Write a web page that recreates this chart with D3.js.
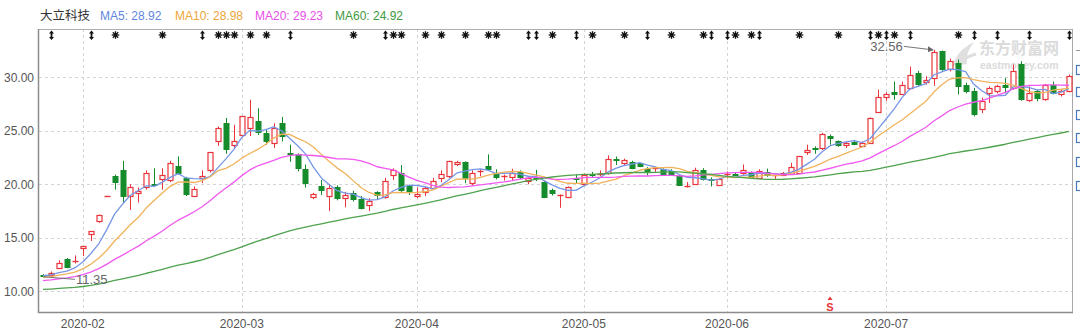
<!DOCTYPE html>
<html><head><meta charset="utf-8">
<script src="https://cdn.jsdelivr.net/npm/d3@7/dist/d3.min.js"></script>
<style>body{margin:0;background:#fff;}svg{display:block;}</style>
</head><body>
<svg id="chart" width="1080" height="334"></svg>
<script>
const stockName = "大立科技";
const dates = [
"2020-01-17","2020-01-20","2020-01-21","2020-01-22","2020-01-23",
"2020-02-03","2020-02-04","2020-02-05","2020-02-06","2020-02-07","2020-02-10","2020-02-11","2020-02-12","2020-02-13","2020-02-14",
"2020-02-17","2020-02-18","2020-02-19","2020-02-20","2020-02-21","2020-02-24","2020-02-25","2020-02-26","2020-02-27","2020-02-28",
"2020-03-02","2020-03-03","2020-03-04","2020-03-05","2020-03-06","2020-03-09","2020-03-10","2020-03-11","2020-03-12","2020-03-13",
"2020-03-16","2020-03-17","2020-03-18","2020-03-19","2020-03-20","2020-03-23","2020-03-24","2020-03-25","2020-03-26","2020-03-27",
"2020-03-30","2020-03-31",
"2020-04-01","2020-04-02","2020-04-03","2020-04-07","2020-04-08","2020-04-09","2020-04-10","2020-04-13","2020-04-14","2020-04-15",
"2020-04-16","2020-04-17","2020-04-20","2020-04-21","2020-04-22","2020-04-23","2020-04-24","2020-04-27","2020-04-28","2020-04-29","2020-04-30",
"2020-05-06","2020-05-07","2020-05-08","2020-05-11","2020-05-12","2020-05-13","2020-05-14","2020-05-15","2020-05-18","2020-05-19",
"2020-05-20","2020-05-21","2020-05-22","2020-05-25","2020-05-26","2020-05-27","2020-05-28","2020-05-29",
"2020-06-01","2020-06-02","2020-06-03","2020-06-04","2020-06-05","2020-06-08","2020-06-09","2020-06-10","2020-06-11","2020-06-12",
"2020-06-15","2020-06-16","2020-06-17","2020-06-18","2020-06-19","2020-06-22","2020-06-23","2020-06-24","2020-06-29","2020-06-30",
"2020-07-01","2020-07-02","2020-07-03","2020-07-06","2020-07-07","2020-07-08","2020-07-09","2020-07-10","2020-07-13","2020-07-14",
"2020-07-15","2020-07-16","2020-07-17","2020-07-20","2020-07-21","2020-07-22","2020-07-23","2020-07-24","2020-07-27","2020-07-28",
"2020-07-29","2020-07-30","2020-07-31","2020-08-03"];
const opens = [11.55,11.50,12.20,13.05,12.75,14.00,15.40,16.55,18.89,20.80,
21.35,18.90,19.20,19.75,20.05,20.45,20.40,21.70,20.60,18.90,
20.60,21.30,24.00,25.70,23.65,24.65,25.30,25.95,24.80,23.90,
25.70,22.90,22.80,21.40,18.80,19.80,18.90,19.70,18.70,19.20,
18.60,18.10,19.25,18.80,20.90,21.05,19.80,18.95,19.30,19.65,
20.60,20.75,21.85,22.05,20.15,21.15,21.70,21.05,20.65,20.65,
21.15,20.35,20.65,20.20,19.50,18.90,18.80,20.60,20.05,20.95,
20.90,21.06,22.40,22.00,22.05,21.95,21.45,21.40,21.40,21.20,
20.75,19.75,20.05,21.35,20.50,19.97,20.90,21.00,21.05,21.05,
20.60,21.15,20.75,20.90,21.00,21.06,23.00,23.40,23.40,24.50,
24.00,23.70,23.95,23.55,23.86,26.80,28.20,28.60,28.45,29.00,
30.40,29.60,29.95,32.45,30.75,31.35,29.25,28.75,27.00,28.55,
28.75,29.30,29.00,31.20,27.85,28.70,28.00,29.30,28.45,28.70];
const highs = [11.60,11.85,12.90,13.10,13.35,14.19,15.61,17.17,18.89,20.90,
22.20,20.00,19.70,21.30,21.50,21.50,22.20,22.60,20.70,19.80,
21.30,23.00,25.40,26.20,25.55,26.40,27.90,27.10,25.10,25.70,
26.30,23.70,22.90,21.85,19.20,20.40,20.00,19.90,19.30,19.40,
18.90,18.70,19.35,20.60,21.50,21.80,19.97,19.70,19.80,20.60,
21.30,22.20,22.20,22.15,21.30,21.40,22.80,21.40,20.90,21.45,
21.30,20.75,21.35,20.30,19.60,19.05,19.80,20.90,21.00,21.15,
21.30,22.70,22.60,22.40,22.20,22.00,21.60,21.60,21.50,21.40,
20.90,20.20,21.55,21.50,20.65,20.55,21.20,21.15,21.85,21.20,
21.40,21.46,20.90,21.15,22.00,22.65,23.70,23.55,24.80,24.65,
24.10,24.00,24.15,24.00,26.25,28.85,28.60,29.60,29.60,31.00,
30.60,30.10,32.56,32.50,31.75,31.65,29.50,29.00,28.10,29.16,
29.30,29.94,31.20,31.50,29.16,28.85,29.38,29.60,28.85,30.25];
const lows = [11.35,11.40,12.10,12.15,12.60,13.30,14.70,16.40,18.89,19.50,
18.30,17.60,18.30,19.50,19.85,19.50,20.20,20.90,18.90,18.80,
20.10,21.10,23.60,22.85,23.40,24.50,24.50,24.60,23.70,23.40,
24.00,22.10,21.20,19.70,18.60,19.00,17.50,18.50,17.85,18.40,
17.65,17.50,18.55,18.65,20.40,19.20,19.00,18.70,18.90,19.50,
20.20,20.60,21.70,20.10,19.90,20.75,21.35,20.45,20.35,20.30,
20.50,20.00,20.30,18.70,18.95,17.80,18.70,20.05,19.90,20.65,
20.75,20.90,21.80,21.70,21.40,21.60,20.85,21.15,20.90,20.85,
19.85,19.70,19.97,20.35,19.80,19.90,20.55,20.75,20.90,20.60,
20.50,20.70,20.45,20.85,20.95,21.00,22.75,22.85,23.20,23.70,
23.50,23.40,23.65,23.50,23.80,26.70,27.80,27.90,28.35,28.85,
29.15,29.30,29.20,30.60,30.55,28.40,28.50,26.35,26.65,27.60,
28.50,28.50,28.85,27.80,27.70,27.75,27.80,28.40,28.20,28.60];
const closes = [11.42,11.75,12.60,12.30,12.85,14.19,15.61,17.17,18.89,20.20,
18.90,19.70,19.40,21.10,19.90,20.90,21.95,21.10,19.10,19.60,
20.75,23.00,25.30,23.25,24.00,26.35,26.30,24.90,24.00,25.30,
24.50,22.80,21.50,20.10,19.10,19.45,19.65,18.70,19.00,18.60,
17.80,18.45,19.00,20.30,21.30,19.50,19.35,19.05,19.65,20.35,
20.95,22.15,22.10,20.60,21.05,21.25,21.45,20.65,20.75,21.10,
20.70,20.55,20.55,18.80,19.15,19.00,19.70,20.50,20.90,20.85,
21.00,22.40,22.25,22.25,21.55,21.70,21.15,21.50,21.00,21.00,
19.90,19.80,21.35,20.45,20.40,20.45,21.00,20.95,21.35,20.70,
21.20,20.85,20.85,21.05,21.60,22.60,23.20,23.25,24.70,24.30,
23.70,23.85,23.80,23.85,26.20,28.20,28.45,28.40,29.25,30.25,
29.40,29.75,32.40,30.75,31.50,29.20,28.75,26.60,27.80,29.00,
29.15,29.05,30.55,27.95,28.50,28.10,29.25,28.55,28.70,30.10];
// closes before the visible window (estimated so that the moving averages start where the picture shows)
const priorCloses = [9.35,9.42,9.38,9.50,9.46,9.55,9.60,9.52,9.48,9.57,
9.63,9.70,9.66,9.58,9.62,9.71,9.75,9.68,9.72,9.80,
9.77,9.69,9.74,9.83,9.88,9.81,9.79,9.86,9.92,9.85,
9.90,9.97,10.02,9.95,10.05,10.10,10.04,10.12,10.18,10.25,
10.32,10.45,10.58,10.50,10.66,10.72,10.85,10.80,10.94,11.05,
11.02,11.18,11.10,11.25,11.20,
11.38,11.52,11.60,11.35];
const maPeriods = [5, 10, 20, 60];
const maNames = ["MA5", "MA10", "MA20", "MA60"];
const maLegendValues = ["28.92", "28.98", "29.23", "24.92"];
const yTicks = [10, 15, 20, 25, 30];
const monthLabels = ["2020-02", "2020-03", "2020-04", "2020-05", "2020-06", "2020-07"];
const arrowMarks = [1,6,20,31,43,61,62,67,76,84,86,90,104,106,109,117,120,124,129];
const starMarks = [9,15,22,23,24,26,28,39,44,45,48,50,53,56,57,64,69,73,79,83,87,89,95,100,105,107,115];
const sMarks = [99];

const W = 1080, H = 334;
const L = 39, R = 1073, T = 29, B = 312;
const RED = "#e8343a", GREEN = "#148c2c";
const maLineColors = ["#7696e6", "#f0b25a", "#f05af0", "#4ea24e"];
const maTextColors = ["#5f86e0", "#eda63a", "#e84ee8", "#3f9a3f"];
const FONT = "'Liberation Sans','Noto Sans CJK SC',sans-serif";

const svg = d3.select("#chart");
svg.append("rect").attr("width", W).attr("height", H).attr("fill", "#fff");

const x = d3.scaleBand().domain(dates).range([L, R]).padding(0);
const xc = d => x(d) + x.bandwidth() / 2;
const y = d3.scaleLinear().domain([8.065, 34.51]).range([B, T]);

svg.append("defs").append("clipPath").attr("id", "clip")
  .append("rect").attr("x", L).attr("y", T).attr("width", R - L).attr("height", B - T);

// month ticks: first trading day of each labelled month
const monthTicks = monthLabels.map(m => dates.find(d => d.slice(0, 7) === m));

// grid
const grid = svg.append("g");
grid.selectAll("line.h").data(yTicks).join("line")
  .attr("x1", L).attr("x2", R)
  .attr("y1", d => Math.round(y(d)) + 0.5).attr("y2", d => Math.round(y(d)) + 0.5)
  .attr("stroke", "#d4d4d4").attr("stroke-dasharray", "3,3");
grid.selectAll("line.v").data(monthTicks).join("line")
  .attr("x1", d => Math.round(xc(d)) + 0.5).attr("x2", d => Math.round(xc(d)) + 0.5)
  .attr("y1", T).attr("y2", B)
  .attr("stroke", "#d4d4d4").attr("stroke-dasharray", "3,3");

// watermark
const wm = svg.append("g").attr("opacity", 0.9);
wm.append("path").attr("d", "M953,66 C955,56 962,48 974,42 C968,50 966,56 967,64 Z").attr("fill", "#dcdcdc");
wm.append("path").attr("d", "M958,66 C962,60 968,56 976,54").attr("stroke", "#dcdcdc").attr("stroke-width", 3).attr("fill", "none");
wm.append("text").attr("x", 979).attr("y", 54).text("东方财富网")
  .attr("font-family", "'Noto Sans CJK SC',sans-serif").attr("font-weight", "bold")
  .attr("font-size", 16).attr("fill", "#d8d8d8");
wm.append("text").attr("x", 980).attr("y", 69).text("eastmoney.com")
  .attr("font-family", FONT).attr("font-weight", "bold")
  .attr("font-size", 10.5).attr("fill", "#d8d8d8");

// frame
const frame = svg.append("g");
frame.append("line").attr("x1", L).attr("x2", R).attr("y1", T + 0.5).attr("y2", T + 0.5).attr("stroke", "#b0b0b0");
frame.append("line").attr("x1", R - 0.5).attr("x2", R - 0.5).attr("y1", T).attr("y2", B).attr("stroke", "#a8a8a8");
frame.append("line").attr("x1", L - 0.5).attr("x2", L - 0.5).attr("y1", T).attr("y2", B + 1).attr("stroke", "#8c8c8c").attr("stroke-width", 1.5);
frame.append("line").attr("x1", L - 1).attr("x2", R).attr("y1", B + 0.5).attr("y2", B + 0.5).attr("stroke", "#8c8c8c").attr("stroke-width", 1.5);

// axes
const yAxis = svg.append("g").attr("transform", `translate(${L},0)`)
  .call(d3.axisLeft(y).tickValues(yTicks).tickFormat(d3.format(".2f")).tickSize(0).tickPadding(5));
yAxis.select(".domain").remove();
yAxis.selectAll("text").attr("font-family", FONT).attr("font-size", 12).attr("fill", "#555");

const xAxis = svg.append("g").attr("transform", `translate(0,${B})`)
  .call(d3.axisBottom(x).tickValues(monthTicks).tickFormat(d => d.slice(0, 7)).tickSize(0).tickPadding(7));
xAxis.select(".domain").remove();
xAxis.selectAll("text").attr("font-family", FONT).attr("font-size", 12).attr("fill", "#555");

// candles
const data = dates.map((d, i) => ({ d, i, o: opens[i], h: highs[i], l: lows[i], c: closes[i] }));
const plot = svg.append("g").attr("clip-path", "url(#clip)");
const cg = plot.append("g");
data.forEach(k => {
  const cx = Math.round(xc(k.d)) + 0.5;
  const up = k.c >= k.o;
  const col = up ? RED : GREEN;
  const yt = Math.round(y(Math.max(k.o, k.c))) + 0.5;
  const yb = Math.round(y(Math.min(k.o, k.c))) + 0.5;
  const yh = y(k.h), yl = y(k.l);
  if (up) {
    if (yb - yt < 1.5) {
      cg.append("line").attr("x1", cx).attr("x2", cx).attr("y1", yh).attr("y2", yl).attr("stroke", col);
      cg.append("line").attr("x1", cx - 3).attr("x2", cx + 3).attr("y1", yt).attr("y2", yt).attr("stroke", col).attr("stroke-width", 1.4);
    } else {
      cg.append("line").attr("x1", cx).attr("x2", cx).attr("y1", yh).attr("y2", yt).attr("stroke", col);
      cg.append("line").attr("x1", cx).attr("x2", cx).attr("y1", yb).attr("y2", yl).attr("stroke", col);
      cg.append("rect").attr("x", cx - 2.5).attr("y", yt).attr("width", 5).attr("height", yb - yt)
        .attr("fill", "#fff").attr("stroke", col).attr("stroke-width", 1.2);
    }
  } else {
    cg.append("line").attr("x1", cx).attr("x2", cx).attr("y1", yh).attr("y2", yl).attr("stroke", col);
    cg.append("rect").attr("x", cx - 3).attr("y", yt - 0.5).attr("width", 6).attr("height", Math.max(2, yb - yt + 1))
      .attr("fill", col);
  }
});

// moving averages
const allCloses = priorCloses.concat(closes);
const off = priorCloses.length;
const maSeries = maPeriods.map(n => closes.map((_, i) => d3.mean(allCloses.slice(i + off - n + 1, i + off + 1))));
const line = d3.line().x((v, i) => xc(dates[i])).y(v => y(v));
maSeries.forEach((s, j) => {
  plot.append("path").datum(s).attr("d", line).attr("fill", "none")
    .attr("stroke", maLineColors[j]).attr("stroke-width", 1.3).attr("stroke-linejoin", "round");
});

// high / low annotations
const iMax = d3.maxIndex(highs), iMin = d3.minIndex(lows);
{
  const cx = xc(dates[iMax]), yy = y(highs[iMax]);
  svg.append("defs").append("marker").attr("id", "ah").attr("viewBox", "0 0 6 6").attr("refX", 5).attr("refY", 3)
    .attr("markerWidth", 6).attr("markerHeight", 6).attr("orient", "auto")
    .append("path").attr("d", "M0,0 L6,3 L0,6 Z").attr("fill", "#666");
  svg.append("line").attr("x1", cx - 30).attr("y1", yy - 3.5).attr("x2", cx - 1).attr("y2", yy)
    .attr("stroke", "#777").attr("stroke-width", 1).attr("marker-end", "url(#ah)");
  svg.append("text").attr("x", cx - 31).attr("y", yy - 3.5).attr("dy", "0.35em").attr("text-anchor", "end")
    .text(highs[iMax].toFixed(2)).attr("font-family", FONT).attr("font-size", 13).attr("fill", "#666");
}
{
  const cx = xc(dates[iMin]), yy = y(lows[iMin]);
  svg.append("line").attr("x1", cx + 1).attr("y1", yy).attr("x2", cx + 32).attr("y2", yy + 2.5)
    .attr("stroke", "#777").attr("stroke-width", 1);
  svg.append("text").attr("x", cx + 33).attr("y", yy + 2.5).attr("dy", "0.35em")
    .text(lows[iMin].toFixed(2)).attr("font-family", FONT).attr("font-size", 13).attr("fill", "#666");
}

// event markers along the top
const mk = svg.append("g");
arrowMarks.forEach(i => {
  const cx = Math.round(xc(dates[i])) + 0.5;
  mk.append("path").attr("d", `M${cx - 2.5},33.5 L${cx},30.5 L${cx + 2.5},33.5 Z M${cx - 2.5},37 L${cx},40 L${cx + 2.5},37 Z`).attr("fill", "#111");
  mk.append("line").attr("x1", cx).attr("x2", cx).attr("y1", 33).attr("y2", 37.5).attr("stroke", "#111").attr("stroke-width", 1.8);
});
starMarks.forEach(i => {
  const cx = Math.round(xc(dates[i])) + 0.5, cy = 35;
  [0, 45, 90, 135].forEach(a => {
    const r = 3.8, t = a * Math.PI / 180;
    mk.append("line").attr("x1", cx - r * Math.cos(t)).attr("y1", cy - r * Math.sin(t))
      .attr("x2", cx + r * Math.cos(t)).attr("y2", cy + r * Math.sin(t))
      .attr("stroke", "#111").attr("stroke-width", 1.3);
  });
  mk.append("circle").attr("cx", cx).attr("cy", cy).attr("r", 1.8).attr("fill", "#111");
});
sMarks.forEach(i => {
  const cx = Math.round(xc(dates[i]));
  mk.append("path").attr("d", `M${cx - 2.5},300 L${cx},296.5 L${cx + 2.5},300 Z`).attr("fill", RED);
  mk.append("text").attr("x", cx).attr("y", 311).attr("text-anchor", "middle").text("S")
    .attr("font-family", FONT).attr("font-weight", "bold").attr("font-size", 11).attr("fill", RED);
});

// legend
const lg = svg.append("g").attr("font-size", 12);
lg.append("text").attr("x", 40).attr("y", 19.5).text(stockName)
  .attr("font-family", "'Noto Sans CJK SC',sans-serif").attr("font-size", 12.5).attr("fill", "#333");
const legendX = [100, 175, 255, 335];
maNames.forEach((n, j) => {
  lg.append("text").attr("x", legendX[j]).attr("y", 19.5).text(`${n}: ${maLegendValues[j]}`)
    .attr("font-family", FONT).attr("fill", maTextColors[j]);
});

// clipped side-panel stubs at the right edge
const stubY = [65, 87, 110, 133, 157, 181];
svg.append("line").attr("x1", 1076).attr("x2", 1080).attr("y1", 50.5).attr("y2", 50.5).attr("stroke", "#999");
svg.selectAll("rect.stub").data(stubY).join("rect")
  .attr("x", 1076.5).attr("y", d => d + 0.5).attr("width", 6).attr("height", 9)
  .attr("fill", "none").attr("stroke", "#4a78c0").attr("stroke-width", 1.2);
</script>
</body></html>
